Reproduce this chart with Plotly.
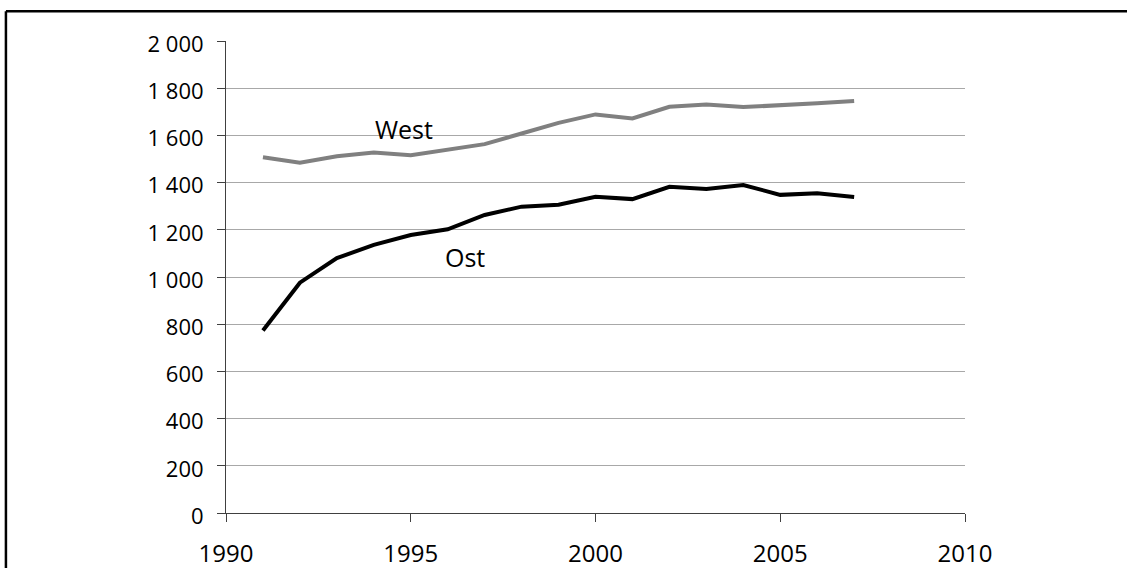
import plotly.graph_objects as go

years = list(range(1991, 2008))
west = [1507, 1484, 1512, 1528, 1516, 1538, 1563, 1608, 1653, 1689, 1672, 1721, 1731, 1720, 1727, 1736, 1746]
ost = [773, 976, 1080, 1136, 1178, 1202, 1263, 1298, 1306, 1340, 1330, 1382, 1373, 1390, 1348, 1355, 1339]
y_ticks = [0, 200, 400, 600, 800, 1000, 1200, 1400, 1600, 1800, 2000]
y_ticklabels = ["0", "200", "400", "600", "800", "1 000", "1 200", "1 400", "1 600", "1 800", "2 000"]
x_ticks = [1990, 1995, 2000, 2005, 2010]
x_ticklabels = ["1990", "1995", "2000", "2005", "2010"]

FONT = "Open Sans"

fig = go.Figure()
fig.add_trace(go.Scatter(x=years, y=west, mode="lines", name="West",
                         line=dict(color="#808080", width=4)))
fig.add_trace(go.Scatter(x=years, y=ost, mode="lines", name="Ost",
                         line=dict(color="#000000", width=4)))

fig.update_layout(
    template="none",
    width=1127, height=568,
    margin=dict(l=226, r=162, t=41, b=55, pad=0),
    paper_bgcolor="white", plot_bgcolor="white",
    showlegend=False,
    font=dict(family=FONT, color="black"),
    xaxis=dict(range=[1990, 2010], tickmode="array", tickvals=x_ticks, ticktext=x_ticklabels,
               automargin=False,
               showgrid=False, zeroline=False, showline=True, linecolor="#404040", linewidth=1,
               ticks="outside", ticklen=8, tickcolor="#404040", tickwidth=1,
               tickfont=dict(family=FONT, size=24, color="black"), ticklabelstandoff=11),
    yaxis=dict(range=[0, 2000], tickmode="array", tickvals=y_ticks, ticktext=y_ticklabels,
               automargin=False,
               showgrid=True, gridcolor="#a8a8a8", gridwidth=1, zeroline=False,
               showline=True, linecolor="#404040", linewidth=1,
               ticks="outside", ticklen=8, tickcolor="#404040", tickwidth=1,
               tickfont=dict(family=FONT, size=22, color="black"), ticklabelstandoff=9,
               ticklabelshift=3),
    annotations=[
        dict(x=1994.82, y=1628, xref="x", yref="y", text="West", showarrow=False,
             font=dict(family=FONT, size=25, color="black")),
        dict(x=1996.47, y=1085, xref="x", yref="y", text="Ost", showarrow=False,
             font=dict(family=FONT, size=25, color="black")),
    ],
    shapes=[
        dict(type="line", xref="paper", yref="paper", x0=-0.2978, x1=1.23, y0=1.0628, y1=1.0628,
             line=dict(color="black", width=2.5)),
        dict(type="line", xref="paper", yref="paper", x0=-0.2978, x1=-0.2978, y0=1.0628, y1=-0.13,
             line=dict(color="black", width=2.5)),
    ],
)

fig.write_html("out.html", config={"displayModeBar": False},
               post_script="document.body.style.margin='0';document.body.style.overflow='hidden';")
